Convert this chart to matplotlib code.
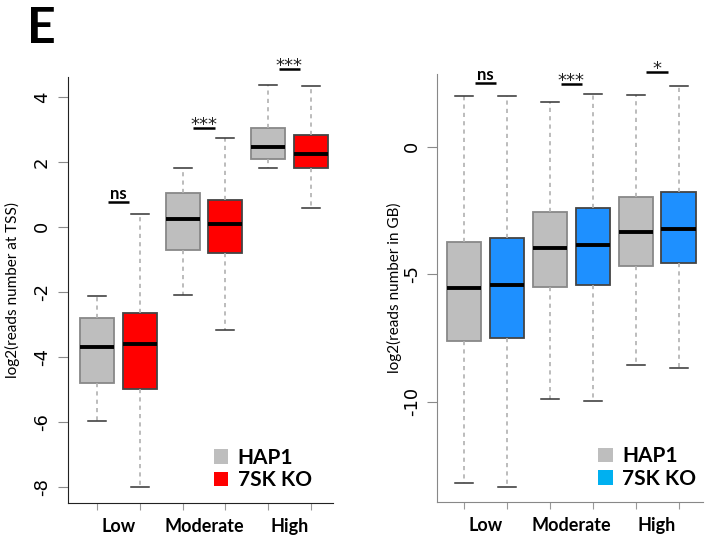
import matplotlib
matplotlib.use("Agg")
import matplotlib.pyplot as plt
from matplotlib.patches import Patch

groups = ["Low", "Moderate", "High"]
samples = ["HAP1", "7SK KO"]

# five-number summaries: whislo, q1, med, q3, whishi
# order: Low HAP1, Low KO, Moderate HAP1, Moderate KO, High HAP1, High KO
tss_stats = [
    (-5.98, -4.80, -3.71, -2.80, -2.13),
    (-8.01, -4.98, -3.60, -2.66, 0.38),
    (-2.10, -0.70, 0.25, 1.03, 1.80),
    (-3.18, -0.80, 0.09, 0.82, 2.72),
    (1.80, 2.10, 2.46, 3.03, 4.36),
    (0.57, 1.82, 2.25, 2.81, 4.32),
]
gb_stats = [
    (-13.20, -7.61, -5.55, -3.73, 1.99),
    (-13.36, -7.51, -5.42, -3.57, 1.99),
    (-9.89, -5.49, -3.96, -2.55, 1.75),
    (-9.96, -5.42, -3.85, -2.42, 2.08),
    (-8.56, -4.68, -3.36, -1.96, 2.04),
    (-8.69, -4.57, -3.21, -1.79, 2.38),
]

tss_sig = ["ns", "***", "***"]
tss_sig_y = [0.76, 3.04, 4.85]
gb_sig = ["ns", "***", "*"]
gb_sig_y = [2.49, 2.46, 2.93]

grey = "#bebebe"
red = "#ff0000"
blue = "#1e90ff"
blue_legend = "#00b0f0"

label_font = "Lato"


def draw_panel(ax, stats, colors, sig, sig_y, ylim, xlim, yticks, ylabel,
               legend_colors, legend_xy, ylabel_x, axis_color):
    positions = [1, 2, 3, 4, 5, 6]
    bstats = [dict(whislo=s[0], q1=s[1], med=s[2], q3=s[3], whishi=s[4]) for s in stats]
    bp = ax.bxp(bstats, positions=positions, widths=0.8, patch_artist=True,
                showfliers=False, capwidths=0.42,
                boxprops=dict(linewidth=1.3),
                whiskerprops=dict(color="#b0b0b0", linestyle=(0, (2.5, 2.5)), linewidth=1.2),
                capprops=dict(color="#333333", linewidth=1.1),
                medianprops=dict(color="black", linewidth=2.8, solid_capstyle="butt"))
    for patch, c in zip(bp["boxes"], colors):
        patch.set_facecolor(c)
        patch.set_edgecolor("#888888" if c == grey else "#444444")

    ax.set_xlim(*xlim)
    ax.set_ylim(*ylim)
    ax.set_yticks(yticks)
    ax.set_yticklabels([str(t) for t in yticks], rotation=90, va="center",
                       fontsize=13, family="DejaVu Sans")
    ax.set_xticks(positions)
    ax.set_xticklabels([])
    ax.tick_params(axis="x", length=5, color="#999999")
    ax.tick_params(axis="y", length=7, color="#8a8a8a", pad=5)
    for g, name in enumerate(groups):
        ax.text(g * 2 + 1.5, -0.055, name, transform=ax.get_xaxis_transform(),
                ha="center", va="center", fontsize=13, fontweight="bold",
                family=label_font)
    for sp in ["top", "right"]:
        ax.spines[sp].set_visible(False)
    ax.spines["left"].set_color(axis_color)
    ax.spines["bottom"].set_color(axis_color)
    ax.set_ylabel(ylabel, fontsize=11, family=label_font)
    ax.yaxis.set_label_coords(ylabel_x, 0.5)

    # significance marks
    for g, (s, y) in enumerate(zip(sig, sig_y)):
        xc = g * 2 + 1.5
        ax.plot([xc - 0.25, xc + 0.25], [y, y], color="black", linewidth=1.8,
                clip_on=False, solid_capstyle="butt")
        if s == "ns":
            ax.annotate(s, (xc, y), xytext=(0, 2.5), textcoords="offset points",
                        ha="center", va="baseline", fontsize=12, fontweight="bold",
                        family=label_font, annotation_clip=False)
        else:
            ax.annotate(s, (xc, y), xytext=(0, -1.5), textcoords="offset points",
                        ha="center", va="baseline", fontsize=13,
                        family="DejaVu Sans", color="#222222", annotation_clip=False)

    handles = [Patch(facecolor=c, edgecolor="none") for c in legend_colors]
    ax.legend(handles, samples, loc="lower left", bbox_to_anchor=legend_xy,
              frameon=False, handlelength=0.7, handleheight=0.7,
              handletextpad=0.45, labelspacing=0.12, borderpad=0, borderaxespad=0,
              prop=dict(family=label_font, size=15, weight="bold"))


fig = plt.figure(figsize=(7.11, 5.36), dpi=100)
ax1 = fig.add_axes([0.0952, 0.0616, 0.3731, 0.7948])
ax2 = fig.add_axes([0.6151, 0.0640, 0.3737, 0.7980])

draw_panel(ax1, tss_stats, [grey, red] * 3, tss_sig, tss_sig_y,
           (-8.5, 4.61), (0.306, 6.52), [-8, -6, -4, -2, 0, 2, 4],
           "log2(reads number at TSS)", [grey, red], (0.551, 0.03), -0.18, "#222222")
draw_panel(ax2, gb_stats, [grey, blue] * 3, gb_sig, gb_sig_y,
           (-13.92, 2.85), (0.378, 6.57), [-10, -5, 0],
           "log2(reads number in GB)", [grey, blue_legend], (0.606, 0.03), -0.134, "#888888")

fig.text(0.038, 0.947, "E", fontsize=36, fontweight="bold", family=label_font,
         ha="left", va="center")

fig.savefig("out.png", dpi=100)
